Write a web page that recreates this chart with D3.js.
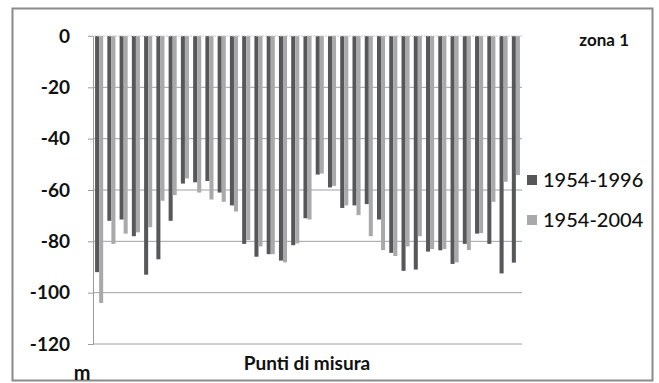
<!DOCTYPE html>
<html>
<head>
<meta charset="utf-8">
<title>zona 1</title>
<script src="https://d3js.org/d3.v7.min.js"></script>
<style>
  body { margin: 0; background: #fff; }
  text { font-family: Lato, "Open Sans", sans-serif; fill: #111; }
</style>
</head>
<body>
<div id="view"></div>
<script>
    var width = 659;
    var height = 383;

    // data (m)
    var punti = d3.range(1, 36);
    var serie1996 = [-92, -72, -71.5, -78, -93, -87, -72, -57.5, -57, -56.5, -61, -66, -81, -86, -85, -87.5, -81.5, -71, -54, -59, -67, -66, -65.5, -71.5, -84.5, -91.5, -91, -84, -83.5, -88.8, -81, -77, -81, -92.5, -88.3];
    var serie2004 = [-104, -81, -77, -76.5, -74.5, -64.2, -62, -55.5, -61, -63.7, -64.6, -68.4, -79.5, -82, -85, -88.2, -80.8, -71.5, -53.6, -58.4, -66, -69.8, -78, -83.4, -85.7, -82, -78, -83, -83, -88.2, -83.4, -76.8, -64.6, -56.8, -54.2];
    var yTicks = [0, -20, -40, -60, -80, -100, -120];
    var legendLabels = ["1954-1996", "1954-2004"];
    var colors = ["#565759", "#a9a9ab"];

    var plot = { left: 93, right: 522, top: 36, bottom: 344 };

    var svg = d3.select("#view")
        .append("svg")
        .attr("width", width)
        .attr("height", height);

    // outer frame
    svg.append("rect")
        .attr("x", 12.5).attr("y", 8.5)
        .attr("width", 640).attr("height", 372)
        .attr("fill", "#fff")
        .attr("stroke", "#8a8a8a")
        .attr("stroke-width", 2);

    var x = d3.scaleBand().domain(punti).range([plot.left, plot.right]).paddingInner(0.34).paddingOuter(0.17);
    var xs = d3.scaleBand().domain([0, 1]).range([0, x.bandwidth()]);
    var y = d3.scaleLinear().domain([0, -120]).range([plot.top, plot.bottom]);

    // gridlines + ticks
    var yAxis = svg.append("g")
        .attr("transform", "translate(" + plot.left + ",0)")
        .call(d3.axisLeft(y).tickValues(yTicks).tickSize(5).tickPadding(18)
            .tickFormat(function (d) { return String(d); }));
    yAxis.select(".domain").attr("stroke", "#9a9a9a");
    yAxis.selectAll(".tick line").attr("stroke", "#9a9a9a");
    yAxis.selectAll(".tick text")
        .attr("font-size", 19)
        .attr("font-weight", "bold")
        .attr("fill", "#111")
        .style("font-family", "Lato, sans-serif");

    svg.append("g").selectAll("line")
        .data(yTicks.filter(function (d) { return d !== 0; }))
        .enter().append("line")
        .attr("x1", plot.left).attr("x2", plot.right)
        .attr("y1", function (d) { return y(d); })
        .attr("y2", function (d) { return y(d); })
        .attr("stroke", "#a0a0a0");

    var series = [serie1996, serie2004];
    series.forEach(function (s, k) {
        svg.append("g").selectAll("rect")
            .data(s)
            .enter().append("rect")
            .attr("x", function (d, i) { return x(punti[i]) + xs(k); })
            .attr("y", y(0))
            .attr("width", xs.bandwidth())
            .attr("height", function (d) { return y(d) - y(0); })
            .attr("fill", colors[k]);
    });

    // zero line on top
    svg.append("line")
        .attr("x1", plot.left - 5).attr("x2", plot.right)
        .attr("y1", y(0)).attr("y2", y(0))
        .attr("stroke", "#c8c8c8")
        .attr("stroke-dasharray", "2,1");

    // title
    svg.append("text")
        .attr("x", 629).attr("y", 46)
        .attr("text-anchor", "end")
        .attr("font-size", 17)
        .attr("font-weight", "bold")
        .text("zona 1");

    // legend
    var legend = svg.append("g").selectAll("g")
        .data(legendLabels)
        .enter().append("g")
        .attr("transform", function (d, i) { return "translate(527," + (175 + i * 40) + ")"; });
    legend.append("rect")
        .attr("width", 10).attr("height", 10)
        .attr("fill", function (d, i) { return colors[i]; });
    legend.append("text")
        .attr("x", 16).attr("y", 12)
        .attr("font-size", 20)
        .attr("font-weight", 500)
        .text(function (d) { return d; });

    // axis titles
    svg.append("text")
        .attr("x", 307).attr("y", 370)
        .attr("text-anchor", "middle")
        .attr("font-size", 19)
        .attr("font-weight", "bold")
        .text("Punti di misura");
    svg.append("text")
        .attr("x", 82).attr("y", 380)
        .attr("text-anchor", "middle")
        .attr("font-size", 20)
        .attr("font-weight", "bold")
        .text("m");
</script>
</body>
</html>
